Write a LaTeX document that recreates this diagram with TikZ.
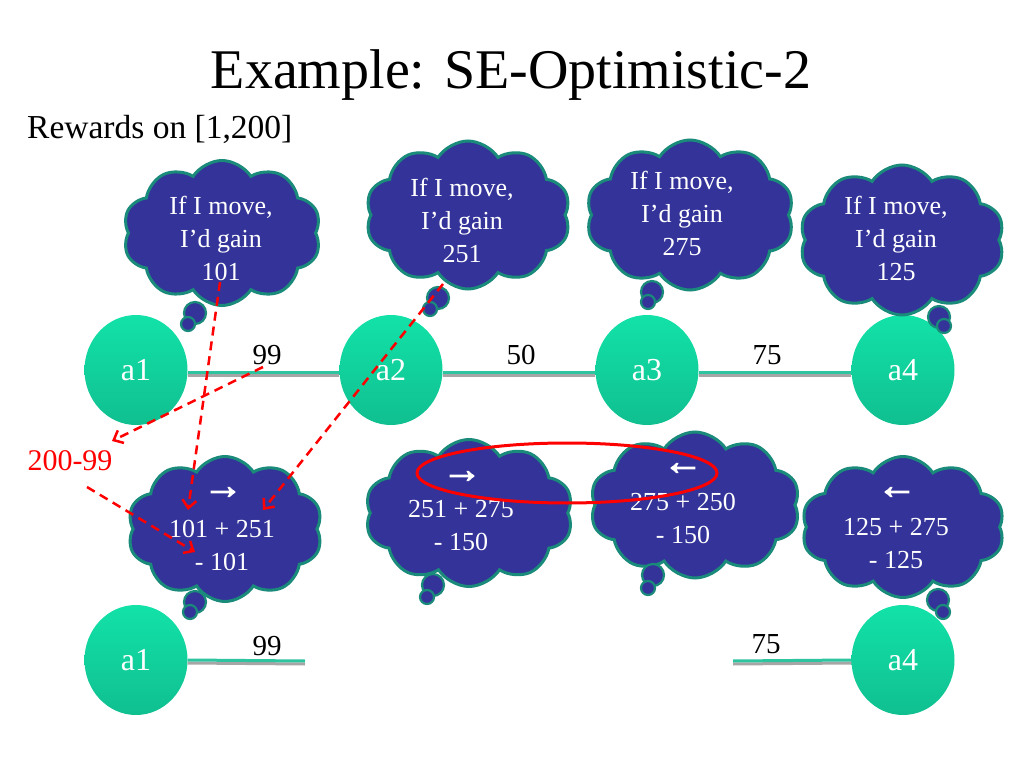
\documentclass[tikz,border=0pt]{standalone}
\usepackage{fontspec}
\setmainfont{Liberation Serif}
\newfontfamily\arrowfont[FakeBold=2.5]{Liberation Sans}
\usetikzlibrary{shapes.symbols,shapes.geometric,arrows.meta}
\definecolor{cloudblue}{HTML}{333399}
\definecolor{cloudedge}{HTML}{1A8A7A}
\definecolor{agenttop}{HTML}{12E2A8}
\definecolor{agentbot}{HTML}{10BF90}
\definecolor{edgeteal}{HTML}{2EC4A0}
\begin{document}
\begin{tikzpicture}[x=1pt,y=-1pt,
 thought/.style={cloud, cloud puffs=10, cloud puff arc=115, cloud ignores aspect, fill=cloudblue, draw=cloudedge, line width=3pt, inner sep=0pt},
 bubble/.style={circle, fill=cloudblue, draw=cloudedge, line width=2.2pt, inner sep=0pt},
 ctext/.style={text=white, font=\fontsize{26}{33}\selectfont, align=center, inner sep=0pt},
 carrow/.style={text=white, font=\arrowfont\bfseries\fontsize{40}{40}\selectfont, inner sep=0pt},
 agentnode/.style={ellipse, minimum width=103pt, minimum height=110pt, top color=agenttop, bottom color=agentbot, draw=none, text=white, font=\fontsize{32}{36}\selectfont},
 link/.style={edgeteal, line width=3pt},
 linkshadow/.style={gray!70, line width=3pt},
 wlabel/.style={font=\fontsize{29}{32}\selectfont, anchor=base, inner sep=0pt},
 redarrow/.style={red, line width=2.5pt, dash pattern=on 9pt off 6pt, -{Straight Barb[length=8pt,width=14pt,line width=2.5pt]}}
]
\fill[white] (0,0) rectangle (1023,767);
\useasboundingbox (0,0) rectangle (1023,767);

% title
\node[font=\fontsize{56}{60}\selectfont, anchor=base, inner sep=0pt] (title) at (511,89) {Example: SE-Optimistic-2};
\node[font=\fontsize{33.5}{36}\selectfont, anchor=base west, inner sep=0pt] (rewards) at (27,139) {Rewards on [1,200]};

% agents, top row
\node[agentnode] (a1) at (136,370) {a1};
\node[agentnode] (a2) at (391,370) {a2};
\node[agentnode] (a3) at (647,370) {a3};
\node[agentnode] (a4) at (903,370) {a4};
% agents, bottom row
\node[agentnode] (b1) at (136,660) {a1};
\node[agentnode] (b4) at (903,660) {a4};
\coordinate (b1end) at (305,661);
\coordinate (b4end) at (733,661);

% links
\draw[linkshadow] ([yshift=-5pt]a1.east) -- ([yshift=-5pt]a2.west);
\draw[linkshadow] ([yshift=-5pt]a2.east) -- ([yshift=-5pt]a3.west);
\draw[linkshadow] ([yshift=-5pt]a3.east) -- ([yshift=-5pt]a4.west);
\draw[link] ([yshift=-2pt]a1.east) -- ([yshift=-2pt]a2.west);
\draw[link] ([yshift=-2pt]a2.east) -- ([yshift=-2pt]a3.west);
\draw[link] ([yshift=-2pt]a3.east) -- ([yshift=-2pt]a4.west);
\draw[linkshadow] ([yshift=-3pt]b1.east) -- ([yshift=-3pt]b1end);
\draw[linkshadow] ([yshift=-3pt]b4end) -- ([yshift=-3pt]b4.west);
\draw[link] (b1.east) -- (b1end);
\draw[link] (b4end) -- (b4.west);

\node[wlabel] (w12) at (267,365) {99};
\node[wlabel] (w23) at (521,365) {50};
\node[wlabel] (w34) at (767,365) {75};
\node[wlabel] (wb1) at (267,655) {99};
\node[wlabel] (wb4) at (766,653) {75};

% top clouds
\node[thought, minimum width=198pt, minimum height=145pt] (c1) at (222,233) {};
\node[bubble, minimum size=22pt] (c1t1) at (195,313) {};
\node[bubble, minimum size=14pt] (c1t2) at (188,324) {};
\node[ctext] (c1x) at (221,238) {If I move,\\I’d gain\\101};

\node[thought, minimum width=205pt, minimum height=148pt] (c2) at (468,215) {};
\node[bubble, minimum size=22pt] (c2t1) at (438,298) {};
\node[bubble, minimum size=14pt] (c2t2) at (430,309) {};
\node[ctext] (c2x) at (462,220) {If I move,\\I’d gain\\251};

\node[thought, minimum width=208pt, minimum height=150pt] (c3) at (690,215) {};
\node[bubble, minimum size=22pt] (c3t1) at (652,292) {};
\node[bubble, minimum size=14pt] (c3t2) at (648,302) {};
\node[ctext] (c3x) at (682,213) {If I move,\\I’d gain\\275};

\node[thought, minimum width=205pt, minimum height=150pt] (c4) at (902,240) {};
\node[bubble, minimum size=22pt] (c4t1) at (939,317) {};
\node[bubble, minimum size=14pt] (c4t2) at (944,326) {};
\node[ctext] (c4x) at (896,238) {If I move,\\I’d gain\\125};

% bottom clouds
\node[thought, minimum width=195pt, minimum height=145pt] (c5) at (225,529) {};
\node[bubble, minimum size=22pt] (c5t1) at (195,602) {};
\node[bubble, minimum size=14pt] (c5t2) at (190,612) {};
\node[carrow] (c5a) at (223,493) {→};
\node[ctext] (c5x) at (222,545) {101 + 251\\- 101};

\node[thought, minimum width=208pt, minimum height=147pt] (c6) at (469,513) {};
\node[bubble, minimum size=22pt] (c6t1) at (433,585) {};
\node[bubble, minimum size=14pt] (c6t2) at (427,597) {};
\node[carrow] (c6a) at (462,477) {→};
\node[ctext] (c6x) at (461,526) {251 + 275\\- 150};

\node[thought, minimum width=210pt, minimum height=146pt] (c7) at (695,505) {};
\node[bubble, minimum size=22pt] (c7t1) at (653,575) {};
\node[bubble, minimum size=14pt] (c7t2) at (648,588) {};
\node[carrow] (c7a) at (683,469) {←};
\node[ctext] (c7x) at (683,518) {275 + 250\\- 150};

\node[thought, minimum width=203pt, minimum height=141pt] (c8) at (903,527) {};
\node[bubble, minimum size=22pt] (c8t1) at (938,600) {};
\node[bubble, minimum size=14pt] (c8t2) at (943,612) {};
\node[carrow] (c8a) at (897,493) {←};
\node[ctext] (c8x) at (896,544) {125 + 275\\- 125};

% selection ellipse
\node[ellipse, draw=red, line width=3pt, minimum width=300pt, minimum height=60pt] (sel) at (567,473) {};

% red annotation
\node[text=red, font=\fontsize{30}{32}\selectfont, anchor=base, inner sep=0pt] (diff) at (70,470) {200-99};

\coordinate (s1) at (220,282);
\coordinate (e1) at (188,510);
\coordinate (s2) at (443,284);
\coordinate (e2) at (263,510);
\coordinate (s3) at (263,367);
\coordinate (e3) at (112,441);
\coordinate (s4) at (87,487);
\coordinate (e4) at (195,552);
\draw[redarrow] (s1) -- (e1);
\draw[redarrow] (s2) -- (e2);
\draw[redarrow] (s3) -- (e3);
\draw[redarrow] (s4) -- (e4);
\end{tikzpicture}
\end{document}
